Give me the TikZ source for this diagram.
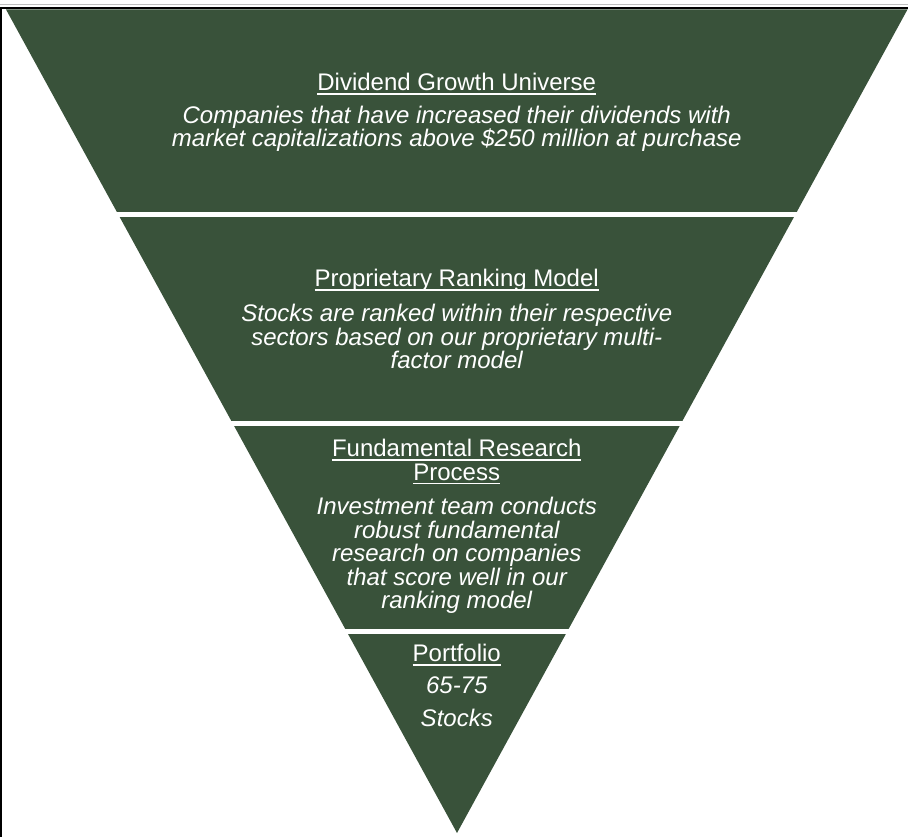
\documentclass[tikz,border=0pt]{standalone}
\usepackage{fontspec}
\setmainfont{Liberation Sans}
\usetikzlibrary{positioning}
\definecolor{funnelgreen}{RGB}{57,82,58}
\newcommand{\titleline}[1]{\leavevmode\setbox0\hbox{#1}\dp0=0pt\vtop{\box0\kern2.5pt\hrule height 1.4pt}}
\begin{document}
\begin{tikzpicture}[x=1pt, y=-1pt, line join=round, font={\fontsize{24}{23.5}\selectfont}]
		\tikzset{title style/.style={text=white, align=center, inner sep=0pt}}
		\tikzset{desc style/.style={text=white, align=center, inner sep=0pt, font={\fontsize{24}{23.5}\selectfont\itshape}}}
		\def \xmid{456.75}
		\useasboundingbox (0,0) rectangle (908,837);
		% frame
		\draw[black!25, line width=1pt] (0,4.5)--(908,4.5);
		\draw[line width=1.5pt] (0,8)--(908,8);
		\draw[line width=2pt] (1,8)--(1,837);
		% funnel and the gaps between its bands
		\fill[funnelgreen] (6,9.5)--(907.5,9.5)--(457,833)--cycle;
		\foreach \y in {214.7,423.2,631.5}
		\draw[white, line width=5pt] (4,\y)--(908,\y);
		% texts
		\node[title style] (universe) at (\xmid,84) {\titleline{Dividend Growth Universe}};
		\node[desc style] (universe text) at (\xmid,129) {Companies that have increased their dividends with\\market capitalizations above \$250 million at purchase};
		\node[title style] (ranking) at (\xmid,280) {\titleline{Proprietary Ranking Model}};
		\node[desc style] (ranking text) at (\xmid,336.5) {Stocks are ranked within their respective\\sectors based on our proprietary multi-\\factor model};
		\node[title style] (research) at (\xmid,462) {\titleline{Fundamental Research}\\\titleline{Process}};
		\node[desc style] (research text) at (\xmid,555.5) {Investment team conducts\\robust fundamental\\research on companies\\that score well in our\\ranking model};
		\node[title style] (portfolio) at (\xmid,655) {\titleline{Portfolio}};
		\node[desc style] (portfolio text) at (\xmid,701.5) {65-75\\[9.5pt]Stocks};
\end{tikzpicture}
\end{document}
